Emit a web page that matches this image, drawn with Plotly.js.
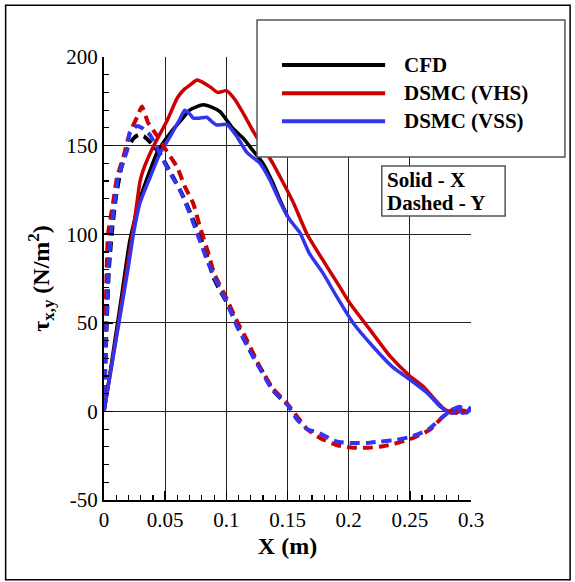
<!DOCTYPE html>
<html>
<head>
<meta charset="utf-8">
<script src="https://cdn.plot.ly/plotly-3.0.1.min.js"></script>
<style>html,body{margin:0;padding:0;background:#fff;}#chart{width:575px;height:582px;}</style>
</head>
<body>
<div id="chart"></div>
<script>
// ---- Data ----
// Solid lines: X component
const cfdX_x = [0, 0.005, 0.01, 0.015, 0.021, 0.029, 0.0376, 0.044, 0.054, 0.065, 0.070, 0.076, 0.081, 0.087, 0.095, 0.105, 0.114, 0.122, 0.130, 0.138, 0.144, 0.150];
const cfdX_y = [0, 22, 45, 68, 96, 119, 136, 147, 157, 166, 170, 172, 173, 172, 169, 160, 154, 147, 140, 129, 119, 110];

const vhsX_x = [0, 0.01, 0.02, 0.025, 0.0295, 0.032, 0.040, 0.0515, 0.060, 0.066, 0.070, 0.076, 0.080, 0.087, 0.093, 0.100, 0.107, 0.114, 0.122, 0.130, 0.138, 0.1465, 0.155, 0.166, 0.182, 0.193, 0.201, 0.2175, 0.234, 0.250, 0.261, 0.272, 0.277, 0.282, 0.288, 0.292, 0.296, 0.300];
const vhsX_y = [0, 42, 86, 108, 130, 136, 149, 164, 177, 182, 184, 187, 186, 183, 180, 181, 176, 168, 158, 149, 140, 129, 117.5, 100, 82, 70, 61, 46, 31, 20, 14, 5.5, 2, 0, -1, 1, 0, 1];

const vssX_x = [0, 0.01, 0.02, 0.024, 0.0294, 0.0376, 0.0458, 0.054, 0.062, 0.066, 0.070, 0.073, 0.078, 0.084, 0.089, 0.092, 0.1005, 0.1087, 0.117, 0.1275, 0.1357, 0.144, 0.152, 0.160, 0.168, 0.179, 0.190, 0.2035, 0.220, 0.236, 0.250, 0.264, 0.275, 0.280, 0.285, 0.289, 0.293, 0.297, 0.300];
const vssX_y = [0, 41, 82, 100, 117.6, 132, 145.7, 155, 165, 170, 168, 165.5, 165.5, 166, 163, 161.6, 162, 155, 146, 140, 130.5, 118, 108, 101, 89, 78, 65, 50, 36.5, 25, 18, 10.5, 2.6, 0, -1, 1, -1, 0, 2];

// Dashed lines: Y component
const cfdY_x = [0, 0.002, 0.004, 0.007, 0.010, 0.014, 0.019, 0.024, 0.028, 0.033, 0.039, 0.046, 0.0567, 0.065, 0.073, 0.079, 0.085, 0.0892, 0.095, 0.100, 0.1087, 0.117, 0.122, 0.130, 0.138, 0.145, 0.150];
const cfdY_y = [0, 45, 80, 105, 122, 137, 148, 154, 156, 155, 151, 145, 132, 121, 108, 98, 86, 76, 68, 62, 49, 38, 31, 22, 12, 7, 4];

const vhsY_x = [0, 0.001, 0.002, 0.0033, 0.0074, 0.0106, 0.0158, 0.021, 0.027, 0.031, 0.036, 0.044, 0.0515, 0.0597, 0.066, 0.0728, 0.0785, 0.085, 0.090, 0.100, 0.1087, 0.117, 0.1275, 0.138, 0.149, 0.158, 0.166, 0.1766, 0.190, 0.2035, 0.216, 0.228, 0.240, 0.2526, 0.2665, 0.277, 0.285, 0.291, 0.296, 0.300];
const vhsY_y = [0, 40, 75, 100, 117.5, 132, 143.5, 157, 166, 172, 163, 155, 146.6, 138, 127, 117.6, 104, 90, 78, 64, 51, 40, 25, 13, 5, -3, -10, -15, -19, -20.5, -20.5, -19.7, -17.8, -15, -10.3, -3, 1, 2, -0.5, 2];

const vssY_x = [0, 0.002, 0.004, 0.0065, 0.009, 0.0115, 0.0186, 0.021, 0.0267, 0.031, 0.0376, 0.046, 0.054, 0.062, 0.070, 0.078, 0.085, 0.090, 0.100, 0.1087, 0.117, 0.1275, 0.138, 0.1496, 0.158, 0.166, 0.175, 0.190, 0.201, 0.215, 0.2256, 0.2395, 0.2526, 0.265, 0.277, 0.285, 0.291, 0.2967, 0.300];
const vssY_y = [0, 50, 85, 106, 119, 132, 147, 157, 161, 160, 156, 145, 134.5, 125, 112, 97, 84, 76, 62, 48, 37, 24, 12, 4, -4.7, -10, -12, -17, -17.8, -17.8, -17, -16, -14, -10.3, -3, 1, 2.6, -0.7, 2.6];

const seriesNames = ['CFD', 'DSMC (VHS)', 'DSMC (VSS)'];
const seriesColors = ['#000000', '#cc0000', '#3434ee'];

const xTickVals = [0, 0.05, 0.1, 0.15, 0.2, 0.25, 0.3];
const xTickText = ['0', '0.05', '0.1', '0.15', '0.2', '0.25', '0.3'];
const yTickVals = [-50, 0, 50, 100, 150, 200];
const yTickText = ['-50', '0', '50', '100', '150', '200'];

// ---- Traces ----
const SERIF = 'Liberation Serif';
const solidW = 3.5, dashW = 4, dashPat = '10px,6px';
const traces = [
  {x: cfdX_x, y: cfdX_y, color: seriesColors[0], dash: 'solid', name: seriesNames[0] + ' X'},
  {x: vhsX_x, y: vhsX_y, color: seriesColors[1], dash: 'solid', name: seriesNames[1] + ' X'},
  {x: vssX_x, y: vssX_y, color: seriesColors[2], dash: 'solid', name: seriesNames[2] + ' X'},
  {x: cfdY_x, y: cfdY_y, color: seriesColors[0], dash: dashPat, name: seriesNames[0] + ' Y'},
  {x: vhsY_x, y: vhsY_y, color: seriesColors[1], dash: dashPat, name: seriesNames[1] + ' Y'},
  {x: vssY_x, y: vssY_y, color: seriesColors[2], dash: dashPat, name: seriesNames[2] + ' Y'}
].map(s => ({
  type: 'scatter', mode: 'lines', x: s.x, y: s.y, name: s.name, showlegend: false,
  line: {color: s.color, width: s.dash === 'solid' ? solidW : dashW, dash: s.dash, shape: 'spline', smoothing: 0.5}
}));

// ---- Custom legend (drawn in paper coordinates) ----
const legX0 = 0.417, legX1 = 1.256, legY0 = 0.774, legY1 = 1.0835;
const legLineX0 = 0.485, legLineX1 = 0.766, legTextX = 0.812;
const legRowY = [0.982, 0.918, 0.855];

const shapes = [
  // outer frame
  {type: 'rect', xref: 'paper', yref: 'paper', x0: -0.268, x1: 1.27, y0: -0.18, y1: 1.117, line: {color: '#000', width: 1.5}, fillcolor: 'rgba(0,0,0,0)', layer: 'below'},
  // legend box
  {type: 'rect', xref: 'paper', yref: 'paper', x0: legX0, x1: legX1, y0: legY0, y1: legY1, line: {color: '#555', width: 1.5}, fillcolor: '#ffffff', layer: 'above'},
  // solid/dashed note box
  {type: 'rect', xref: 'paper', yref: 'paper', x0: 0.757, x1: 1.093, y0: 0.641, y1: 0.754, line: {color: '#555', width: 1.5}, fillcolor: '#ffffff', layer: 'above'}
];
const annotations = [];
seriesNames.forEach((n, i) => {
  shapes.push({type: 'line', xref: 'paper', yref: 'paper', x0: legLineX0, x1: legLineX1, y0: legRowY[i], y1: legRowY[i], line: {color: seriesColors[i], width: 4}, layer: 'above'});
  annotations.push({xref: 'paper', yref: 'paper', x: legTextX, y: legRowY[i], xanchor: 'left', yanchor: 'middle', showarrow: false, text: '<b>' + n + '</b>', font: {family: SERIF, size: 21, color: '#000'}});
});
annotations.push({xref: 'paper', yref: 'paper', x: 0.766, y: 0.722, xanchor: 'left', yanchor: 'middle', showarrow: false, text: '<b>Solid - X</b>', font: {family: SERIF, size: 21, color: '#000'}});
annotations.push({xref: 'paper', yref: 'paper', x: 0.766, y: 0.670, xanchor: 'left', yanchor: 'middle', showarrow: false, text: '<b>Dashed - Y</b>', font: {family: SERIF, size: 21, color: '#000'}});

const axisCommon = {
  showgrid: true, gridcolor: '#222', gridwidth: 1,
  showline: true, linecolor: '#000', linewidth: 2, mirror: false,
  ticks: 'inside', ticklen: 9, tickwidth: 1.5, tickcolor: '#000',
  zeroline: false,
  tickfont: {family: SERIF, size: 21, color: '#000'}
};

const layout = {
  width: 575, height: 582,
  margin: {l: 104, r: 104, t: 57, b: 82},
  paper_bgcolor: '#fff', plot_bgcolor: '#fff',
  font: {family: SERIF, color: '#000'},
  showlegend: false,
  xaxis: Object.assign({}, axisCommon, {
    range: [0, 0.3], tickmode: 'array', tickvals: xTickVals, ticktext: xTickText,
    minor: {dtick: 0.01, tick0: 0, ticks: 'inside', ticklen: 5, tickwidth: 1.2, tickcolor: '#000', showgrid: false},
    title: {text: 'X (m)', font: {family: SERIF, size: 24, color: '#000', weight: 'bold'}, standoff: 6}
  }),
  yaxis: Object.assign({}, axisCommon, {
    range: [-50, 200], tickmode: 'array', tickvals: yTickVals, ticktext: yTickText,
    minor: {dtick: 10, tick0: 0, ticks: 'inside', ticklen: 5, tickwidth: 1.2, tickcolor: '#000', showgrid: false},
    title: {text: 'τ<sub>x,y</sub> (N/m<sup>2</sup>)', font: {family: SERIF, size: 24, color: '#000', weight: 'bold'}, standoff: 10}
  }),
  shapes: shapes,
  annotations: annotations
};

Plotly.newPlot('chart', traces, layout, {displayModeBar: false, staticPlot: true});
</script>
</body>
</html>
